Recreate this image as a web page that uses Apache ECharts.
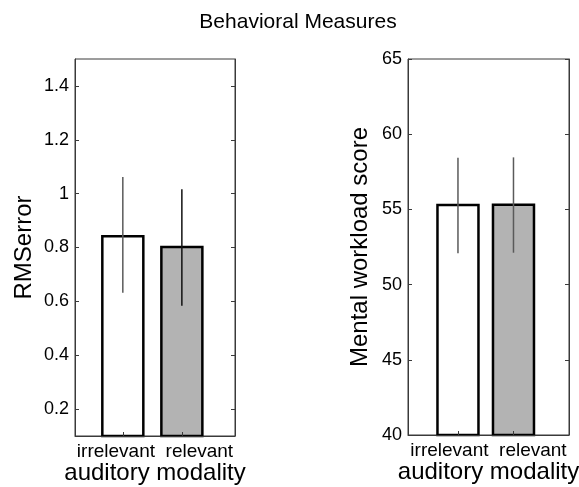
<!DOCTYPE html>
<html>
<head>
<meta charset="utf-8">
<script src="https://cdn.jsdelivr.net/npm/echarts@6/dist/echarts.min.js"></script>
<style>
  html, body { margin: 0; padding: 0; background: #fff; }
  #chart { width: 579px; height: 487px; }
</style>
</head>
<body>
<div id="chart"></div>
<script>
// Group labels and positions along the x axis
const categories = ['irrelevant', 'relevant'];
const groupPos = [1, 2];

// RMS error: bar means and error-bar limits
const rmsMean = [0.842, 0.802];
const rmsLow = [0.632, 0.584];
const rmsHigh = [1.062, 1.016];
const rmsTicks = [0.2, 0.4, 0.6, 0.8, 1, 1.2, 1.4];

// Mental workload score: bar means and error-bar limits
const mwMean = [55.29, 55.31];
const mwLow = [52.08, 52.12];
const mwHigh = [58.44, 58.46];
const mwTicks = [40, 45, 50, 55, 60, 65];

const FONT = '"Liberation Sans", Arial, Helvetica, sans-serif';
const AXIS_COLOR = '#3a3a3a';
const barFills = ['#ffffff', '#b3b3b3'];

function barSeries(gridIdx, means, yMin) {
  return {
    type: 'custom',
    xAxisIndex: gridIdx,
    yAxisIndex: gridIdx * 2,
    z: 2,
    data: groupPos.map((x, i) => [x, means[i]]),
    renderItem: function (params, api) {
      const top = api.coord([api.value(0), api.value(1)]);
      const base = api.coord([api.value(0), yMin]);
      const w = 41;
      return {
        type: 'rect',
        shape: { x: top[0] - w / 2, y: top[1], width: w, height: base[1] - top[1] },
        style: { fill: barFills[params.dataIndex], stroke: '#000', lineWidth: 2.5 }
      };
    }
  };
}

function errSeries(gridIdx, low, high, colors) {
  return {
    type: 'custom',
    xAxisIndex: gridIdx,
    yAxisIndex: gridIdx * 2,
    z: 3,
    data: groupPos.map((x, i) => [x, low[i], high[i]]),
    renderItem: function (params, api) {
      const a = api.coord([api.value(0), api.value(1)]);
      const b = api.coord([api.value(0), api.value(2)]);
      return {
        type: 'line',
        shape: { x1: a[0], y1: a[1], x2: b[0], y2: b[1] },
        style: { stroke: colors[params.dataIndex], lineWidth: 1.5 }
      };
    }
  };
}

function xAxisFor(gridIdx, min, max) {
  return {
    type: 'value', gridIndex: gridIdx, min: min, max: max, z: 5,
    axisLine: { show: true, onZero: false, lineStyle: { color: AXIS_COLOR, width: 1 } },
    axisTick: { show: true, inside: true, length: 4, customValues: groupPos, lineStyle: { color: AXIS_COLOR } },
    axisLabel: { show: false },
    splitLine: { show: false },
    name: '{c|' + categories.join('  ') + '}\n{t|auditory modality}',
    nameLocation: 'middle',
    nameGap: 5,
    nameTextStyle: {
      color: '#000', fontFamily: FONT,
      rich: {
        c: { fontSize: 19, lineHeight: 22, fontFamily: FONT, color: '#000' },
        t: { fontSize: 24, lineHeight: 21, fontFamily: FONT, color: '#000' }
      }
    }
  };
}

function yAxesFor(gridIdx, min, max, ticks, name, gap) {
  return [{
    type: 'value', gridIndex: gridIdx, position: 'left', min: min, max: max, z: 5,
    axisLine: { show: true, onZero: false, lineStyle: { color: AXIS_COLOR, width: 1 } },
    axisTick: { show: true, inside: true, length: 4, customValues: ticks, lineStyle: { color: AXIS_COLOR } },
    axisLabel: { show: true, customValues: ticks, margin: 6, fontSize: 18, fontFamily: FONT, color: '#000' },
    splitLine: { show: false },
    name: name, nameLocation: 'middle', nameGap: gap,
    nameTextStyle: { fontSize: 24, fontFamily: FONT, color: '#000' }
  }, {
    type: 'value', gridIndex: gridIdx, position: 'right', min: min, max: max, z: 5,
    axisLine: { show: true, onZero: false, lineStyle: { color: AXIS_COLOR, width: 1 } },
    axisTick: { show: true, inside: true, length: 4, customValues: ticks, lineStyle: { color: AXIS_COLOR } },
    axisLabel: { show: false },
    splitLine: { show: false }
  }];
}

const chart = echarts.init(document.getElementById('chart'), null, { renderer: 'canvas' });
chart.setOption({
  animation: false,
  backgroundColor: '#fff',
  title: {
    text: 'Behavioral Measures',
    left: 298, top: 12, padding: 0, textAlign: 'center',
    textStyle: { fontSize: 21, fontWeight: 'normal', fontFamily: FONT, color: '#000' }
  },
  grid: [
    { left: 75, width: 160, top: 59, height: 377, show: true, borderColor: AXIS_COLOR, borderWidth: 1, backgroundColor: 'transparent', containLabel: false, outerBoundsMode: 'none' },
    { left: 408, width: 161, top: 59, height: 376, show: true, borderColor: AXIS_COLOR, borderWidth: 1, backgroundColor: 'transparent', containLabel: false, outerBoundsMode: 'none' }
  ],
  xAxis: [xAxisFor(0, 0.19, 2.9), xAxisFor(1, 0.1, 3.0)],
  yAxis: [].concat(
    yAxesFor(0, 0.1, 1.5, rmsTicks, 'RMSerror', 39),
    yAxesFor(1, 40, 65, mwTicks, 'Mental workload score', 36)
  ),
  series: [
    barSeries(0, rmsMean, 0.1),
    errSeries(0, rmsLow, rmsHigh, ['#5a5a5a', '#111111']),
    barSeries(1, mwMean, 40),
    errSeries(1, mwLow, mwHigh, ['#5a5a5a', '#5a5a5a'])
  ]
});
</script>
</body>
</html>
